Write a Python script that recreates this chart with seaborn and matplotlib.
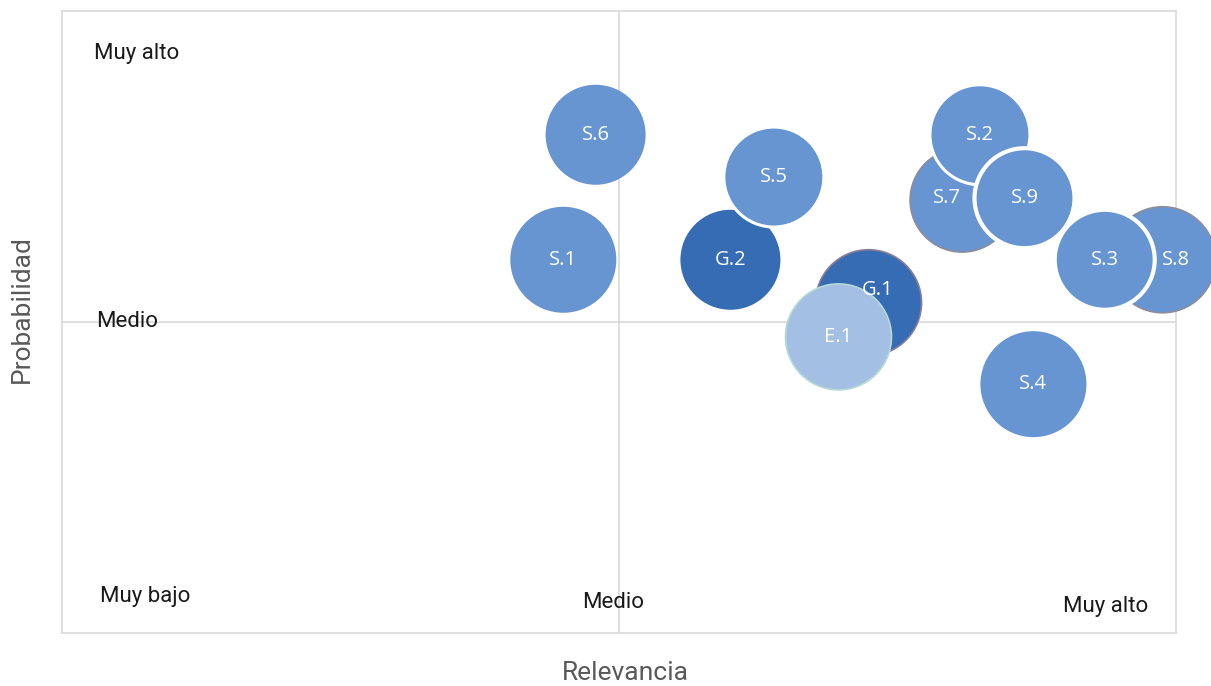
import pandas as pd
import matplotlib.pyplot as plt
import seaborn as sns

# Riesgos: relevancia (x), probabilidad (y), tamano burbuja
nombres = ['S.1', 'S.6', 'S.8', 'S.3', 'S.7', 'S.2', 'S.9', 'S.4', 'G.2', 'S.5', 'G.1', 'E.1']
grupo = ['S', 'S', 'S', 'S', 'S', 'S', 'S', 'S', 'G', 'S', 'G', 'E']
relevancia = [4.50, 4.79, 9.88, 9.36, 8.08, 8.24, 8.64, 8.72, 6.00, 6.39, 7.24, 6.97]
probabilidad = [6.00, 8.01, 6.00, 6.00, 6.96, 8.01, 6.99, 4.00, 6.00, 7.33, 5.31, 4.76]
tamano = [1.06, 1.00, 1.06, 1.00, 1.04, 1.00, 1.00, 1.06, 1.00, 1.00, 1.06, 1.06]

etiquetas_y = ['Muy bajo', 'Medio', 'Muy alto']
etiquetas_x = ['Medio', 'Muy alto']

df = pd.DataFrame({'Nombre': nombres, 'Grupo': grupo, 'Relevancia': relevancia,
                   'Probabilidad': probabilidad, 'Tamano': tamano})

colores = {'S': '#6695D2', 'G': '#366CB3', 'E': '#A3BFE3'}
bordes = {'S.8': '#8C8C9C', 'S.7': '#8C8C9C', 'G.1': '#8A7F98', 'E.1': '#B5DAD6',
          'S.3': 'white', 'S.2': 'white', 'S.9': 'white', 'S.5': 'white'}
grosor = {'S.8': 1.2, 'S.7': 1.2, 'G.1': 1.2, 'E.1': 1.2,
          'S.3': 3.0, 'S.2': 2.2, 'S.9': 3.0, 'S.5': 2.2}
# desplazamiento de algunas etiquetas (como en el original)
desp = {'G.1': (0.08, 0.2), 'S.7': (-0.14, 0.03), 'S.8': (0.12, 0.0)}

sns.set_theme(style="white")
plt.rcParams['font.family'] = ['Roboto', 'DejaVu Sans']

fig = plt.figure(figsize=(12.11, 6.86), dpi=100)
ax = fig.add_axes([0.0512, 0.0773, 0.9199, 0.9067])

# diametro ~100 px por unidad de tamano -> puntos^2
df['s'] = (df['Tamano'] * 72.0) ** 2
ec = [bordes.get(n, 'none') for n in df['Nombre']]
lw = [grosor.get(n, 0.0) for n in df['Nombre']]

sns.scatterplot(data=df, x='Relevancia', y='Probabilidad', hue='Grupo', palette=colores,
                s=df['s'].values, edgecolor=ec, linewidth=lw, alpha=1, legend=False,
                ax=ax, zorder=3, clip_on=False)

for _, r in df.iterrows():
    dx, dy = desp.get(r['Nombre'], (0, 0))
    ax.text(r['Relevancia'] + dx, r['Probabilidad'] + dy,
            r['Nombre'], color='white', ha='center', va='center', fontsize=14.5, zorder=5,
            family=['Open Sans', 'DejaVu Sans'])

ax.set_xlim(0, 10)
ax.set_ylim(0, 10)
ax.axvline(5, color='#D9D9D9', lw=1.2, zorder=1)
ax.axhline(5, color='#D9D9D9', lw=1.2, zorder=1)
ax.set_xticks([])
ax.set_yticks([])
for sp in ax.spines.values():
    sp.set_color('#D9D9D9')
    sp.set_linewidth(1.2)

# etiquetas de nivel
kw = dict(transform=ax.transAxes, fontsize=16, color='#1a1a1a', va='center')
ax.text(0.034, 0.059, etiquetas_y[0], **kw)
ax.text(0.031, 0.50, etiquetas_y[1], **kw)
ax.text(0.029, 0.932, etiquetas_y[2], **kw)
ax.text(0.467, 0.049, etiquetas_x[0], **kw)
ax.text(0.899, 0.043, etiquetas_x[1], **kw)

ax.set_xlabel('Relevancia', fontsize=19, color='#595959')
ax.set_ylabel('Probabilidad', fontsize=19, color='#595959')
ax.xaxis.set_label_coords(0.506, -0.045)
ax.yaxis.set_label_coords(-0.025, 0.52)

plt.savefig('out.png', dpi=100)
